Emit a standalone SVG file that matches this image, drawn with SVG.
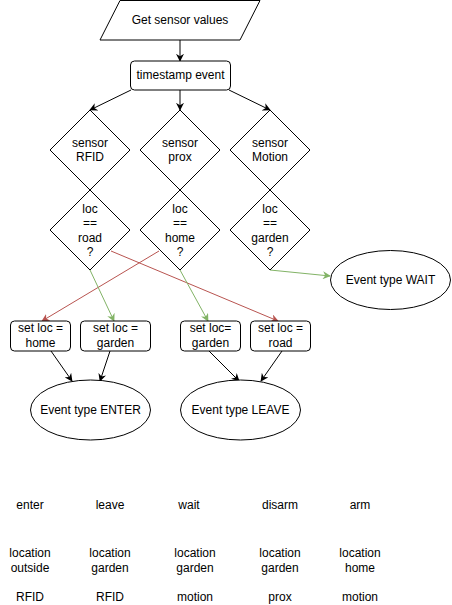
<svg xmlns="http://www.w3.org/2000/svg" width="452" height="605" viewBox="0 0 452 605">
<defs>
<style>
.s{fill:#fff;stroke:#000;stroke-width:1}
.t{font-family:"Liberation Sans",Arial,Helvetica,sans-serif;font-size:12px;fill:#000;text-anchor:middle;dominant-baseline:central}
.e{fill:none;stroke:#000;stroke-width:1}
.r{fill:none;stroke:#b85450;stroke-width:1}
.g{fill:none;stroke:#82b366;stroke-width:1}
</style>
<marker id="ak" viewBox="0 0 10 10" refX="9" refY="5" markerWidth="8" markerHeight="8" markerUnits="userSpaceOnUse" orient="auto"><path d="M0,0 L10,5 L0,10 L3,5 z" fill="#000"/></marker>
<marker id="ar" viewBox="0 0 10 10" refX="9" refY="5" markerWidth="8" markerHeight="8" markerUnits="userSpaceOnUse" orient="auto"><path d="M0,0 L10,5 L0,10 L3,5 z" fill="#b85450"/></marker>
<marker id="ag" viewBox="0 0 10 10" refX="9" refY="5" markerWidth="8" markerHeight="8" markerUnits="userSpaceOnUse" orient="auto"><path d="M0,0 L10,5 L0,10 L3,5 z" fill="#82b366"/></marker>
</defs>
<rect width="452" height="605" fill="#fff"/>
<g id="connectors">
<line class="e" x1="180" y1="40" x2="180" y2="61" marker-end="url(#ak)"/>
<line class="e" x1="131" y1="90" x2="90" y2="110" marker-end="url(#ak)"/>
<line class="e" x1="180" y1="90" x2="180" y2="110" marker-end="url(#ak)"/>
<line class="e" x1="229" y1="90" x2="270" y2="110" marker-end="url(#ak)"/>
<line class="r" x1="111" y1="251" x2="278" y2="321" marker-end="url(#ar)"/>
<line class="r" x1="159" y1="251" x2="42" y2="321" marker-end="url(#ar)"/>
<line class="g" x1="90" y1="270" x2="114" y2="321" marker-end="url(#ag)"/>
<line class="g" x1="180" y1="270" x2="208" y2="321" marker-end="url(#ag)"/>
<line class="g" x1="270" y1="270" x2="330" y2="276" marker-end="url(#ag)"/>
<line class="e" x1="51" y1="351" x2="72" y2="381" marker-end="url(#ak)"/>
<line class="e" x1="110" y1="351" x2="100" y2="381" marker-end="url(#ak)"/>
<line class="e" x1="209" y1="351" x2="239" y2="381" marker-end="url(#ak)"/>
<line class="e" x1="282" y1="351" x2="261" y2="381" marker-end="url(#ak)"/>
</g>
<g id="get-sensor-values">
<polygon class="s" points="120,0.5 260,0.5 240,40 100,40"/>
<text class="t" x="180" y="20">Get sensor values</text>
</g>
<g id="timestamp-event">
<rect class="s" x="130.5" y="61" width="100" height="29" rx="4"/>
<text class="t" x="180.5" y="75">timestamp event</text>
</g>
<g id="sensor-rfid">
<polygon class="s" points="90,110 130,150 90,190 50,150"/>
<text class="t" x="90" y="143">sensor</text>
<text class="t" x="90" y="157">RFID</text>
</g>
<g id="sensor-prox">
<polygon class="s" points="180,110 220,150 180,190 140,150"/>
<text class="t" x="180" y="143">sensor</text>
<text class="t" x="180" y="157">prox</text>
</g>
<g id="sensor-motion">
<polygon class="s" points="270,110 310,150 270,190 230,150"/>
<text class="t" x="270" y="143">sensor</text>
<text class="t" x="270" y="157">Motion</text>
</g>
<g id="loc-road">
<polygon class="s" points="90,190 130,230 90,270 50,230"/>
<text class="t" x="90" y="209">loc</text>
<text class="t" x="90" y="223">==</text>
<text class="t" x="90" y="238">road</text>
<text class="t" x="90" y="252">?</text>
</g>
<g id="loc-home">
<polygon class="s" points="180,190 220,230 180,270 140,230"/>
<text class="t" x="180" y="209">loc</text>
<text class="t" x="180" y="223">==</text>
<text class="t" x="180" y="238">home</text>
<text class="t" x="180" y="252">?</text>
</g>
<g id="loc-garden">
<polygon class="s" points="270,190 310,230 270,270 230,230"/>
<text class="t" x="270" y="209">loc</text>
<text class="t" x="270" y="223">==</text>
<text class="t" x="270" y="238">garden</text>
<text class="t" x="270" y="252">?</text>
</g>
<g id="event-wait">
<ellipse class="s" cx="390.5" cy="280" rx="60" ry="29.5"/>
<text class="t" x="390.5" y="280">Event type WAIT</text>
</g>
<g id="set-home">
<rect class="s" x="10.5" y="321" width="60" height="30" rx="4"/>
<text class="t" x="40.5" y="328">set loc =</text>
<text class="t" x="40.5" y="343">home</text>
</g>
<g id="set-garden-1">
<rect class="s" x="80.5" y="321" width="70" height="30" rx="4"/>
<text class="t" x="115.5" y="328">set loc =</text>
<text class="t" x="115.5" y="343">garden</text>
</g>
<g id="set-garden-2">
<rect class="s" x="180.5" y="321" width="60" height="30" rx="4"/>
<text class="t" x="210.5" y="328">set loc=</text>
<text class="t" x="210.5" y="343">garden</text>
</g>
<g id="set-road">
<rect class="s" x="250.5" y="321" width="60" height="30" rx="4"/>
<text class="t" x="280.5" y="328">set loc =</text>
<text class="t" x="280.5" y="343">road</text>
</g>
<g id="event-enter">
<ellipse class="s" cx="90.5" cy="410" rx="60" ry="30"/>
<text class="t" x="90.5" y="410">Event type ENTER</text>
</g>
<g id="event-leave">
<ellipse class="s" cx="240.5" cy="410" rx="60" ry="30"/>
<text class="t" x="240.5" y="410">Event type LEAVE</text>
</g>
<g id="table">
<text class="t" x="30" y="505">enter</text>
<text class="t" x="110" y="505">leave</text>
<text class="t" x="189" y="505">wait</text>
<text class="t" x="280" y="505">disarm</text>
<text class="t" x="360" y="505">arm</text>
<text class="t" x="30" y="553">location</text>
<text class="t" x="30" y="568">outside</text>
<text class="t" x="110" y="553">location</text>
<text class="t" x="110" y="568">garden</text>
<text class="t" x="195" y="553">location</text>
<text class="t" x="195" y="568">garden</text>
<text class="t" x="280" y="553">location</text>
<text class="t" x="280" y="568">garden</text>
<text class="t" x="360" y="553">location</text>
<text class="t" x="360" y="568">home</text>
<text class="t" x="30" y="597">RFID</text>
<text class="t" x="110" y="597">RFID</text>
<text class="t" x="195" y="597">motion</text>
<text class="t" x="280" y="597">prox</text>
<text class="t" x="360" y="597">motion</text>
</g>
</svg>
